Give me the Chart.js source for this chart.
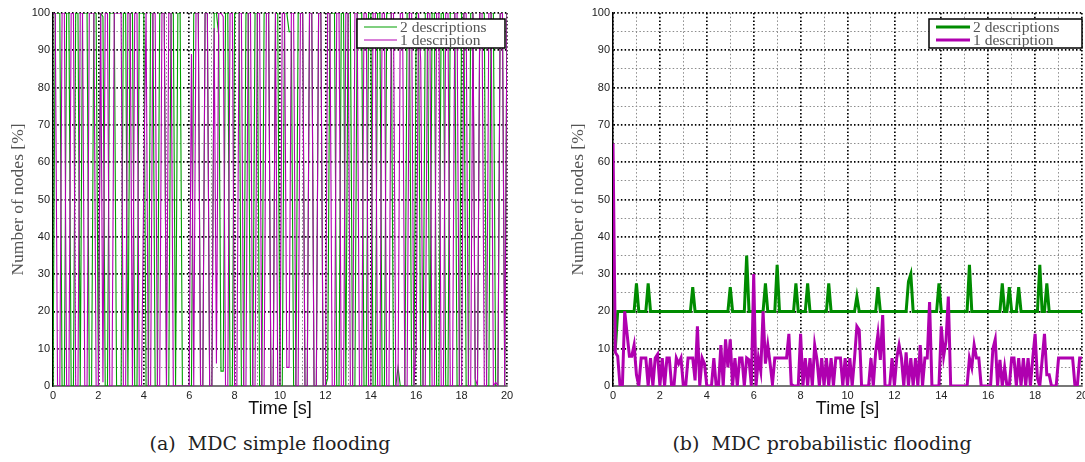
<!DOCTYPE html>
<html>
<head>
<meta charset="utf-8">
<script src="https://cdn.jsdelivr.net/npm/chart.js@4"></script>
<style>
  html, body { margin: 0; padding: 0; background: #fff; overflow: hidden; }
  body { width: 1085px; height: 462px; position: relative; }
  .panel { position: absolute; top: 0; width: 540px; height: 420px; }
  .caption { position: absolute; top: 432px; font: 19px "DejaVu Serif", serif; color: #222; text-align: center; width: 540px; }
</style>
</head>
<body>
<div class="panel" style="left:0"><canvas id="simpleFlooding" width="540" height="420"></canvas></div>
<div class="panel" style="left:560px"><canvas id="probFlooding" width="540" height="420"></canvas></div>
<div class="caption" style="left:0">(a)&nbsp; MDC simple flooding</div>
<div class="caption" style="left:552px">(b)&nbsp; MDC probabilistic flooding</div>
<script>
// time axis: one sample every 0.1 s, 0..20 s
const time = Array.from({ length: 201 }, (_, i) => i / 10);
const seriesLabels = ['2 descriptions', '1 description'];

// (a) simple flooding, % of nodes
const simpleTwo = [
  0, 100, 100, 100, 0, 0, 100, 100, 0, 0,
  100, 100, 0, 100, 100, 100, 0, 0, 100, 100,
  0, 100, 99, 0, 0, 100, 100, 100, 0, 0,
  0, 100, 100, 0, 100, 100, 0, 0, 100, 100,
  100, 0, 0, 100, 100, 0, 0, 100, 100, 100,
  0, 0, 100, 100, 0, 100, 100, 0, 0, 0,
  0, 0, 100, 100, 100, 0, 0, 100, 100, 0,
  0, 100, 100, 94, 4, 4, 100, 100, 0, 0,
  100, 100, 100, 0, 0, 100, 100, 0, 0, 100,
  100, 0, 0, 100, 100, 100, 0, 0, 100, 100,
  0, 0, 100, 100, 95, 95, 0, 0, 100, 100,
  100, 0, 0, 100, 100, 0, 0, 100, 100, 0,
  0, 2, 100, 100, 100, 0, 0, 100, 100, 0,
  100, 100, 0, 0, 100, 100, 100, 0, 0, 100,
  100, 0, 0, 100, 100, 0, 0, 100, 100, 100,
  0, 0, 5, 0, 0, 0, 100, 100, 0, 0,
  100, 100, 0, 0, 100, 100, 0, 100, 100, 0,
  0, 100, 100, 0, 0, 100, 100, 100, 0, 0,
  100, 100, 0, 0, 100, 100, 0, 0, 100, 100,
  100, 0, 0, 100, 100, 0, 0, 100, 100, 0,
  100
];
const simpleOne = [
  100, 100, 0, 0, 100, 100, 0, 0, 100, 100,
  0, 0, 100, 100, 0, 0, 100, 100, 100, 0,
  0, 100, 1, 100, 100, 0, 0, 100, 100, 100,
  100, 0, 0, 100, 100, 0, 100, 100, 0, 0,
  55, 100, 0, 0, 100, 100, 0, 0, 100, 100,
  0, 100, 100, 0, 0, 0, 0, 0, 0, 0,
  0, 89, 0, 100, 100, 0, 0, 100, 100, 0,
  0, 96, 6, 100, 100, 99, 0, 0, 100, 100,
  0, 0, 100, 100, 0, 0, 100, 100, 0, 0,
  100, 100, 0, 0, 100, 100, 0, 0, 100, 0,
  0, 100, 100, 5, 5, 100, 100, 0, 0, 100,
  100, 0, 0, 100, 100, 0, 0, 100, 100, 0,
  0, 100, 100, 0, 0, 100, 100, 0, 0, 100,
  100, 0, 0, 100, 100, 0, 0, 100, 100, 0,
  0, 100, 100, 0, 0, 100, 100, 0, 0, 100,
  100, 0, 0, 100, 100, 0, 0, 100, 100, 0,
  11, 100, 87, 0, 0, 100, 100, 0, 0, 100,
  100, 0, 0, 100, 100, 0, 0, 100, 100, 0,
  0, 100, 100, 0, 0, 100, 2, 0, 100, 100,
  0, 0, 100, 100, 0, 1, 0, 100, 100, 0,
  100
];

// (b) probabilistic flooding, % of nodes
const probTwo = [
  35, 10, 20, 20, 20, 20, 20, 20, 20, 20,
  27.5, 20, 20, 20, 20, 27.5, 20, 20, 20, 20,
  20, 20, 20, 20, 20, 20, 20, 20, 20, 20,
  20, 20, 20, 20, 26.5, 20, 20, 20, 20, 20,
  20, 20, 20, 20, 20, 20, 20, 20, 20, 20,
  26.5, 20, 20, 20, 20, 20, 20, 35, 20, 20,
  20, 20, 20, 20, 20, 27.5, 20, 20, 20, 20,
  32.5, 20, 20, 20, 20, 20, 20, 20, 27.5, 20,
  20, 20, 20, 27.5, 20, 20, 20, 20, 20, 20,
  20, 20, 27.5, 20, 20, 20, 20, 20, 20, 20,
  20, 20, 20, 20, 24, 20, 20, 20, 20, 20,
  20, 20, 20, 26.5, 20, 20, 20, 20, 20, 20,
  20, 20, 20, 20, 20, 20, 28, 30, 20, 20,
  20, 20, 20, 20, 20, 20, 20, 20, 20, 27.5,
  20, 20, 20, 20, 20, 20, 20, 20, 20, 20,
  20, 20, 32.5, 20, 20, 20, 20, 20, 20, 20,
  20, 20, 20, 20, 20, 20, 27.5, 20, 20, 26.5,
  20, 20, 20, 26.5, 20, 20, 20, 20, 20, 20,
  20, 20, 32.5, 20, 20, 27.5, 20, 20, 20, 20,
  20, 20, 20, 20, 20, 20, 20, 20, 20, 20,
  20
];
const probOne = [
  65, 9, 8, 0, 0, 20, 14, 8, 8, 11,
  3, 0, 7.5, 7.5, 7.5, 0, 7.5, 0, 7.5, 8.5,
  0, 7.5, 0, 7.5, 7.5, 0, 0, 7.5, 6, 7.5,
  0, 0, 7.5, 7.5, 7.5, 1.5, 16, 0, 7.5, 6,
  0, 0, 0, 7.5, 0, 0, 11, 0, 12.5, 5,
  12.5, 0, 7.5, 0, 7.5, 7.5, 0, 7.5, 7, 0,
  30, 0, 7.5, 4, 20, 6, 11, 6, 0.5, 7.5,
  7.5, 7.5, 7.5, 7.5, 7.5, 14, 0.5, 0, 0, 0,
  14, 0, 7.5, 0, 7.5, 0, 11, 7, 0, 7.5,
  0, 7.5, 0, 7.5, 0, 7.5, 7.5, 7.5, 0, 7.5,
  0, 7.5, 0, 7.5, 16, 15, 0, 0, 0, 0,
  7.5, 0, 9, 14, 7, 19, 0, 0, 0, 7.5,
  0, 7.5, 11, 7.5, 0, 9, 0, 7.5, 0, 7.5,
  0, 11, 0, 7.5, 7.5, 22.5, 0, 0, 0, 0,
  16, 8, 12, 24, 0, 0, 0, 0, 0, 0,
  0, 0, 7.5, 5, 11, 7.5, 7.5, 0, 0, 0,
  0, 0, 10, 12.5, 0, 7, 0, 5, 0, 0,
  7.5, 7.5, 0, 7.5, 0, 7.5, 0, 7.5, 0, 7.5,
  14, 2, 0, 7, 14, 3, 3, 0, 0, 0,
  7.5, 7.5, 7.5, 7.5, 7.5, 7.5, 7.5, 0, 0, 7.5,
  7.5
];

const xTicks = [0, 2, 4, 6, 8, 10, 12, 14, 16, 18, 20];
const yTicks = [0, 10, 20, 30, 40, 50, 60, 70, 80, 90, 100];

// matlab-style legend box in the upper right corner of the plot
const boxLegend = {
  id: 'boxLegend',
  afterDraw(chart, args, opts) {
    const { ctx, chartArea } = chart;
    const x = chartArea.right - opts.right - opts.width;
    const y = chartArea.top + 6;
    ctx.save();
    ctx.fillStyle = '#fff';
    ctx.fillRect(x, y, opts.width, 29);
    ctx.strokeStyle = '#000';
    ctx.lineWidth = 1.5;
    ctx.strokeRect(x, y, opts.width, 29);
    chart.data.datasets.forEach((ds, i) => {
      const ly = y + 8 + i * 13;
      ctx.strokeStyle = ds.borderColor;
      ctx.lineWidth = ds.borderWidth;
      ctx.beginPath();
      ctx.moveTo(x + 7, ly);
      ctx.lineTo(x + opts.sample, ly);
      ctx.stroke();
      ctx.fillStyle = '#555';
      ctx.font = '15.5px "Liberation Serif"';
      ctx.textBaseline = 'middle';
      ctx.fillText(ds.label, x + opts.sample + 3, ly + 1);
    });
    ctx.restore();
  }
};

function makeChart(id, series, colors, width, legend) {
  const ctx = document.getElementById(id).getContext('2d');
  return new Chart(ctx, {
    type: 'line',
    data: {
      datasets: series.map((s, i) => ({
        label: seriesLabels[i],
        data: time.map((t, k) => ({ x: t, y: s[k] })),
        borderColor: colors[i],
        borderWidth: width,
        pointRadius: 0,
        tension: 0,
        order: i === 0 ? 1 : 0
      }))
    },
    options: {
      responsive: false,
      animation: false,
      layout: { padding: { left: 4, top: 13, right: legend.padRight, bottom: 0 } },
      plugins: {
        legend: { display: false },
        tooltip: { enabled: false },
        boxLegend: legend
      },
      scales: {
        x: {
          type: 'linear',
          min: 0,
          max: 20,
          afterFit: s => { s.height = 34; },
          afterBuildTicks: s => { s.ticks = time.filter((t, k) => k % 10 === 0).map(v => ({ value: v })); },
          ticks: {
            autoSkip: false,
            maxRotation: 0,
            padding: 3,
            color: '#222',
            font: { family: 'Liberation Sans', size: 11 },
            callback: v => xTicks.includes(v) ? v : ''
          },
          grid: {
            drawTicks: false,
            color: c => xTicks.includes(c.tick.value) ? '#000' : '#8c8c8c',
            lineWidth: c => xTicks.includes(c.tick.value) ? 1.7 : 1
          },
          border: { color: '#777', width: 2, dash: [1.5, 2.2] },
          title: {
            display: true,
            text: 'Time [s]',
            color: '#111',
            padding: { top: 0, bottom: 0 },
            font: { family: 'Liberation Sans', size: 18 }
          }
        },
        y: {
          min: 0,
          max: 100,
          afterFit: s => { s.width = 49; },
          ticks: {
            stepSize: 5,
            autoSkip: false,
            padding: 3,
            color: '#222',
            font: { family: 'Liberation Sans', size: 11 },
            callback: v => yTicks.includes(v) ? v : ''
          },
          grid: {
            drawTicks: false,
            color: c => yTicks.includes(c.tick.value) ? '#000' : '#8c8c8c',
            lineWidth: c => yTicks.includes(c.tick.value) ? 1.7 : 1
          },
          border: { color: '#000', width: 1.5, dash: [1.5, 2.2] },
          title: {
            display: true,
            text: 'Number of nodes [%]',
            color: '#555',
            padding: { top: 4, bottom: 0 },
            font: { family: 'Liberation Serif', size: 17.5 }
          }
        }
      }
    },
    plugins: [boxLegend]
  });
}

makeChart('simpleFlooding', [simpleTwo, simpleOne], ['rgb(0,160,0)', 'rgb(180,0,180)'], 1.1,
  { width: 148, right: 2, sample: 40, padRight: 33 });
makeChart('probFlooding', [probTwo, probOne], ['rgb(0,140,0)', 'rgb(175,0,175)'], 3,
  { width: 153, right: 0, sample: 41, padRight: 18 });
</script>
</body>
</html>
